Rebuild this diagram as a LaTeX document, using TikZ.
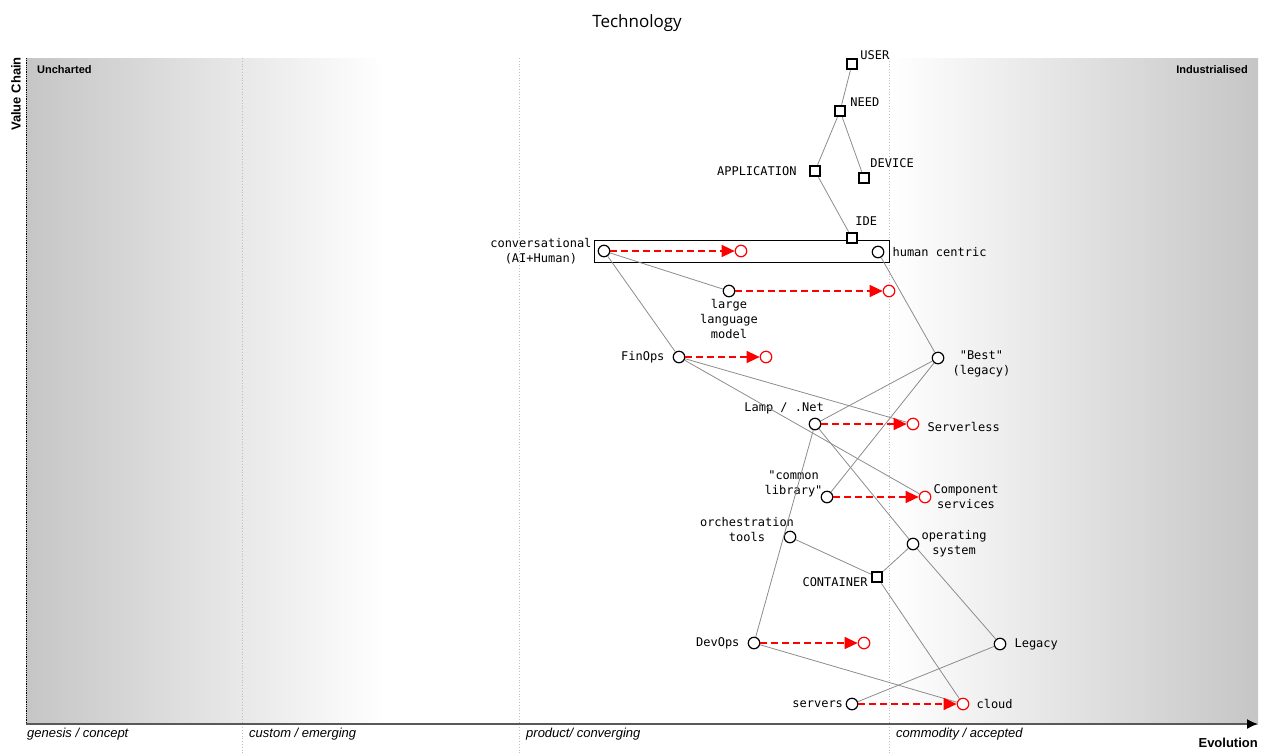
\documentclass[tikz,border=0pt]{standalone}
\usepackage{fontspec}
\setmainfont{Liberation Sans}
\setsansfont{Liberation Sans}
\setmonofont{DejaVu Sans Mono}
\newfontfamily\titlefont{Open Sans}
\usetikzlibrary{arrows.meta}

\tikzset{
  comp/.style={draw, circle, fill=white, line width=1.2pt, minimum size=11.5pt, inner sep=0pt},
  evocomp/.style={comp, draw=red},
  sqnode/.style={draw, rectangle, fill=white, line width=2pt, minimum size=10.5pt, inner sep=0pt},
  lbl/.style={font=\fontsize{12}{15}\selectfont\ttfamily, inner sep=0pt, align=center},
  link/.style={draw=gray!90, line width=0.8pt},
  evolve/.style={draw=red, line width=1.3pt, dash pattern=on 7pt off 4pt, -{Triangle[length=13pt, width=12pt]}},
  stage/.style={draw=gray!50, dotted, line width=0.8pt},
  stagelbl/.style={font=\fontsize{13}{15}\selectfont\itshape, anchor=west, inner sep=0pt},
  zonelbl/.style={font=\fontsize{11}{13}\selectfont\bfseries, inner sep=0pt},
  axislbl/.style={font=\fontsize{13}{15}\selectfont\bfseries, inner sep=0pt}
}

\begin{document}
\begin{tikzpicture}[x=1pt, y=-1pt]
  \useasboundingbox (0,0) rectangle (1268,753);

  % background zones
  \shade[left color=gray!45, right color=white] (26,58) rectangle (385,724);
  \shade[left color=white, right color=gray!45] (889,58) rectangle (1258,724);
  \foreach \x in {242,519,889}
    \draw[stage] (\x,58) -- (\x,753);
  \draw[densely dotted, line width=0.8pt] (26,58) -- (26,724);
  \draw[draw=gray!70!black, line width=1.6pt, -{Latex[black, length=11pt, width=10pt]}] (26,724) -- (1258,724);

  % titles and axes
  \node (title) [font=\fontsize{17}{20}\selectfont\titlefont, inner sep=0pt] at (637,23) {Technology};
  \node (valuechain) [axislbl, rotate=90, anchor=east] at (16,57) {Value Chain};
  \node (evolution) [axislbl, anchor=east] at (1258,743) {Evolution};
  \node (uncharted) [zonelbl, anchor=west] at (37,70) {Uncharted};
  \node (industrialised) [zonelbl, anchor=east] at (1248,70) {Industrialised};
  \node (genesis) [stagelbl] at (27,734) {genesis / concept};
  \node (custom) [stagelbl] at (249,734) {custom / emerging};
  \node (product) [stagelbl] at (526,734) {product/ converging};
  \node (commodity) [stagelbl] at (896,734) {commodity / accepted};

  % pipeline box
  \draw[line width=0.8pt] (594,240) rectangle (889,262);

  % anchors and components
  \node (user) [sqnode, label={[lbl, anchor=south west, xshift=2pt, yshift=-2pt]north east:USER}] at (852,64) {};
  \node (need) [sqnode, label={[lbl, anchor=south west, xshift=4pt, yshift=-2pt]north east:NEED}] at (840,111) {};
  \node (application) [sqnode, label={[lbl, label distance=12pt]left:APPLICATION}] at (815,171) {};
  \node (device) [sqnode, label={[lbl, anchor=south west, yshift=4pt]north east:DEVICE}] at (864,178) {};
  \node (ide) [sqnode, label={[lbl, anchor=south west, xshift=-3pt, yshift=6pt]north east:IDE}] at (852,238) {};

  \node (conversational) [comp, label={[lbl, label distance=6pt]left:{conversational\\(AI+Human)}}] at (604,251) {};
  \node (humancentric) [comp, label={[lbl, label distance=8pt]right:human centric}] at (878,252) {};
  \node (llm) [comp, label={[lbl, label distance=2pt]below:{large\\language\\model}}] at (729,291) {};
  \node (finops) [comp, label={[lbl, label distance=8pt]left:FinOps}] at (679,357) {};
  \node (best) [comp, label={[lbl, label distance=8pt, yshift=-6pt]right:{"Best"\\(legacy)}}] at (938,358) {};
  \node (lamp) [comp, label={[lbl, anchor=south east, xshift=9pt, yshift=3pt]north:Lamp / .Net}] at (815,424) {};
  \node (serverless) [evocomp, label={[lbl, label distance=8pt, yshift=-3pt]right:Serverless}] at (913,424) {};
  \node (commonlib) [comp, label={[lbl, anchor=south east, xshift=2pt]west:{"common\\library"}}] at (827,497) {};
  \node (component) [evocomp, label={[lbl, label distance=2pt]right:{Component\\services}}] at (925,497) {};
  \node (orchestration) [comp, label={[lbl, anchor=east, xshift=10.5pt, yshift=7.5pt]west:{orchestration\\tools}}] at (790,537) {};
  \node (opsys) [comp, label={[lbl, label distance=2pt]right:{operating\\system}}] at (913,544) {};
  \node (container) [sqnode, label={[lbl, label distance=3pt, yshift=-5pt]left:CONTAINER}] at (877,577) {};
  \node (devops) [comp, label={[lbl, label distance=8pt]left:DevOps}] at (754,643) {};
  \node (legacy) [comp, label={[lbl, label distance=8pt]right:Legacy}] at (1000,644) {};
  \node (servers) [comp, label={[lbl, label distance=2.5pt]left:servers}] at (852,704) {};
  \node (cloud) [evocomp, label={[lbl, label distance=7pt]right:cloud}] at (963,704) {};

  % evolved positions
  \node (conversationalevo) [evocomp] at (741,251) {};
  \node (llmevo) [evocomp] at (889,291) {};
  \node (finopsevo) [evocomp] at (766,357) {};
  \node (devopsevo) [evocomp] at (864,643) {};

  % links
  \foreach \a/\b in {user/need, need/application, need/device, application/ide,
      humancentric/best, conversational/llm, conversational/finops,
      finops/serverless, finops/component, best/lamp, best/commonlib,
      lamp/devops, lamp/opsys, orchestration/container, container/opsys,
      container/cloud, opsys/legacy, legacy/servers, devops/cloud}
    \draw[link] (\a) -- (\b);

  % evolution
  \foreach \a/\b in {conversational/conversationalevo, llm/llmevo, finops/finopsevo,
      lamp/serverless, commonlib/component, devops/devopsevo, servers/cloud}
    \draw[evolve] (\a) -- (\b);
\end{tikzpicture}
\end{document}
